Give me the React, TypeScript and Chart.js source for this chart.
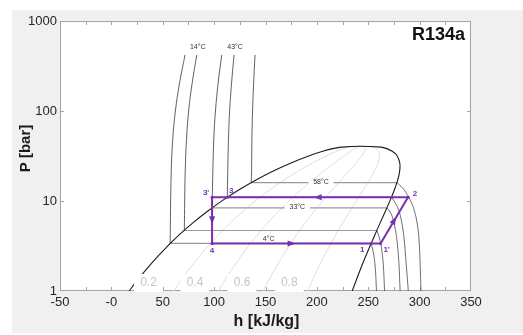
import { useEffect, useRef } from 'react';
import { Chart, registerables } from 'chart.js';

Chart.register(...registerables);

const FONT = "'Liberation Sans', Arial, Helvetica, sans-serif";

// R134a saturation table (ASHRAE reference: h = 0 kJ/kg for saturated liquid at -40 °C)
const satTemp = [-26.4, -20, -10, 0, 10, 20, 30, 40, 50, 60, 70, 80, 90, 95, 98, 100, 101.06];
const satP = [1.0, 1.327, 2.006, 2.928, 4.146, 5.717, 7.702, 10.166, 13.179, 16.818, 21.168, 26.332, 32.442, 35.92, 38.2, 39.72, 40.59];
const satHf = [17.3, 25.5, 38.6, 51.9, 65.4, 79.3, 93.6, 108.3, 123.5, 139.4, 156.1, 174.3, 194.6, 206.5, 215.5, 224.0, 241.5];
const satHg = [234.4, 238.4, 244.5, 250.5, 256.2, 261.6, 266.7, 271.3, 275.3, 278.5, 280.5, 280.7, 277.6, 272.9, 268.0, 262.5, 241.5];

// vapour quality lines
const qualityValues = [0.2, 0.4, 0.6, 0.8];
const qualityText = ['0.2', '0.4', '0.6', '0.8'];
const qualityLabelH = [36.1, 81.4, 127.1, 173.1];

// isotherms
const isoText = ['4°C', '14°C', '33°C', '43°C', '58°C'];
const isoPsat = [3.38, 4.7, 8.39, 11.03, 16.03];
const isoHf = [57.2, 71.0, 98.0, 112.8, 136.1];
const isoHg = [252.8, 258.3, 268.1, 272.5, 277.9];

// compressed-liquid branch (bar, kJ/kg)
const liquidP = [20, 50, 100, 200, 420];
const liquidH = [
  [58.2, 59.8, 62.3, 66.2, 71.7],
  [71.8, 73.2, 75.2, 78.5, 83.1],
  [98.7, 99.7, 101.3, 103.8, 107.4],
  [113.2, 114.0, 115.1, 116.9, 119.4],
  [136.4, 136.8, 137.4, 138.4, 139.8],
];

// superheated-vapour branch (bar, kJ/kg)
const vaporP = [
  [3.0, 2.5, 2.0, 1.5, 1.0],
  [4.0, 3.38, 3.0, 2.0, 1.0],
  [8.0, 7.0, 6.0, 5.0, 4.0, 3.0, 2.0, 1.0],
  [10, 8, 6, 4, 2, 1],
  [14, 12, 10, 8, 6, 4, 2, 1],
];
const vaporH = [
  [254.0, 255.4, 256.5, 257.3, 258.0],
  [260.6, 262.0, 262.9, 264.6, 265.9],
  [269.8, 272.8, 274.5, 276.1, 277.5, 278.7, 279.9, 281.0],
  [275.2, 279.5, 282.3, 284.7, 286.9, 289.0],
  [283.3, 287.5, 291.3, 294.6, 297.2, 299.2, 300.5, 301.3],
];

// refrigeration cycle states: 4 -> 1 -> 1' -> 2 -> 3 -> 3' -> 4
const cycleNames = ['4', '1', "1'", '2', '3', "3'"];
const cycleH = [98.0, 252.8, 262.0, 288.7, 112.8, 98.0];
const cycleP = [3.38, 3.38, 3.38, 11.03, 11.03, 11.03];

// axes
const xTicks = [-50, 0, 50, 100, 150, 200, 250, 300, 350];
const xTickLabels = ['-50', '-0', '50', '100', '150', '200', '250', '300', '350'];
const yTicks = [1, 10, 100, 1000];
const yTickLabels = ['1', '10', '100', '1000'];

const PURPLE = '#7b2fae';

type Pt = { x: number; y: number };
const pts = (hs: number[], ps: number[]): Pt[] => hs.map((h, i) => ({ x: h, y: ps[i] }));

const line = (label: string, data: Pt[], color: string, width: number, order: number, tension = 0.4) => ({
  label,
  data,
  showLine: true,
  fill: false,
  borderColor: color,
  borderWidth: width,
  pointRadius: 0,
  tension,
  order,
});

function buildDatasets() {
  const sets: any[] = [];
  // quality lines
  qualityValues.forEach((q, k) => {
    const data = satP.map((p, i) => ({ x: satHf[i] + q * (satHg[i] - satHf[i]), y: p }));
    sets.push(line('x=' + qualityText[k], data, '#dedede', 1, 5));
  });
  // two-phase isotherm segments
  isoText.forEach((t, i) => {
    sets.push(line(t + ' sat', [{ x: isoHf[i], y: isoPsat[i] }, { x: isoHg[i], y: isoPsat[i] }], '#9a9a9a', 1.2, 4, 0));
  });
  // liquid and vapour isotherm branches
  isoText.forEach((t, i) => {
    sets.push(line(t + ' liq', [{ x: isoHf[i], y: isoPsat[i] }, ...pts(liquidH[i], liquidP)], '#3a3a3a', 0.8, 3));
    sets.push(line(t + ' vap', [{ x: isoHg[i], y: isoPsat[i] }, ...pts(vaporH[i], vaporP[i])], '#4a4a4a', 0.8, 3));
  });
  // saturation dome
  const liq = pts(satHf, satP);
  const vap = pts(satHg, satP).reverse().slice(1);
  sets.push(line('dome', [...liq, ...vap], '#1c1c1c', 1.1, 2, 0.3));
  // cycle
  const cyc = pts(cycleH, cycleP);
  sets.push({
    ...line('cycle', [...cyc, cyc[0]], PURPLE, 2, 0, 0),
    pointRadius: 1.5,
    pointBackgroundColor: PURPLE,
    pointBorderWidth: 0,
  });
  return sets;
}

function boxedText(ctx: CanvasRenderingContext2D, text: string, x: number, y: number, w: number, h: number) {
  ctx.fillStyle = '#ffffff';
  ctx.fillRect(x - w / 2, y - h / 2, w, h);
}

function arrowHead(ctx: CanvasRenderingContext2D, x: number, y: number, ang: number) {
  ctx.save();
  ctx.translate(x, y);
  ctx.rotate(ang);
  ctx.beginPath();
  ctx.moveTo(4, 0);
  ctx.lineTo(-4, -3);
  ctx.lineTo(-4, 3);
  ctx.closePath();
  ctx.fill();
  ctx.restore();
}

const plotDecor = {
  id: 'plotDecor',
  beforeDraw(chart: any) {
    const { ctx, width, height, chartArea: a } = chart;
    ctx.save();
    ctx.fillStyle = '#ffffff';
    ctx.fillRect(0, 0, width, height);
    ctx.fillStyle = '#f0f0f0';
    ctx.fillRect(12, 10, width - 12, height - 12);
    ctx.fillStyle = '#ffffff';
    ctx.fillRect(a.left, a.top, a.right - a.left, a.bottom - a.top);
    ctx.restore();
  },
  beforeDatasetsDraw(chart: any) {
    const { ctx, chartArea: a, scales } = chart;
    const xs = scales.x;
    const ys = scales.y;
    ctx.save();
    ctx.strokeStyle = '#a3a3a3';
    ctx.lineWidth = 1;
    ctx.strokeRect(a.left + 0.5, a.top + 0.5, a.right - a.left - 1, a.bottom - a.top - 1);
    ctx.beginPath();
    for (let h = -25; h < 350; h += 25) {
      const px = Math.round(xs.getPixelForValue(h)) + 0.5;
      ctx.moveTo(px, a.bottom);
      ctx.lineTo(px, a.bottom - 4);
      ctx.moveTo(px, a.top);
      ctx.lineTo(px, a.top + 4);
    }
    for (const p of [10, 100]) {
      const py = Math.round(ys.getPixelForValue(p)) + 0.5;
      ctx.moveTo(a.left, py);
      ctx.lineTo(a.left + 4, py);
      ctx.moveTo(a.right, py);
      ctx.lineTo(a.right - 4, py);
    }
    ctx.stroke();
    ctx.restore();
  },
  beforeDatasetDraw(chart: any, args: any) {
    if (chart.data.datasets[args.index].label !== 'cycle') return;
    const { ctx, chartArea: a, scales } = chart;
    const xs = scales.x;
    const ys = scales.y;
    ctx.save();
    // quality labels along the bottom
    ctx.font = `12px ${FONT}`;
    ctx.textAlign = 'center';
    ctx.textBaseline = 'middle';
    qualityText.forEach((t, k) => {
      const x = xs.getPixelForValue(qualityLabelH[k]);
      const y = a.bottom - 8;
      boxedText(ctx, t, x, y, 29, 18);
      ctx.fillStyle = '#c4c4c4';
      ctx.fillText(t, x, y);
    });
    // isotherm labels inside the dome
    ctx.font = `7px ${FONT}`;
    const domeLabels: [number, number, boolean, number][] = [
      [4, 204, true, 0],
      [2, 181, true, -1],
      [0, 153, false, -4.5],
    ];
    domeLabels.forEach(([i, h, boxed, dy]) => {
      const x = xs.getPixelForValue(h);
      const y = ys.getPixelForValue(isoPsat[i]) + dy;
      if (boxed) boxedText(ctx, isoText[i], x, y, 25, 7);
      ctx.fillStyle = '#333333';
      ctx.fillText(isoText[i], x, y);
    });
    // labels on top of the liquid isotherms
    [1, 3].forEach((i) => {
      const x = xs.getPixelForValue(liquidH[i][liquidH[i].length - 1]) + 1;
      const y = ys.getPixelForValue(liquidP[liquidP.length - 1]) - 7.5;
      ctx.fillStyle = '#333333';
      ctx.fillText(isoText[i], x, y);
    });
    ctx.restore();
  },
  afterDatasetsDraw(chart: any) {
    const { ctx, chartArea: a, scales } = chart;
    const xs = scales.x;
    const ys = scales.y;
    const px = cycleH.map((h) => xs.getPixelForValue(h));
    const py = cycleP.map((p) => ys.getPixelForValue(p));
    ctx.save();
    ctx.fillStyle = PURPLE;
    // flow direction arrows: 4->1, 1'->2, 2->3, 3'->4
    [[0, 1], [2, 3], [3, 4], [5, 0]].forEach(([s, e]) => {
      const mx = (px[s] + px[e]) / 2;
      const my = (py[s] + py[e]) / 2;
      arrowHead(ctx, mx, my, Math.atan2(py[e] - py[s], px[e] - px[s]));
    });
    // state labels
    const offs: Record<string, [number, number]> = {
      '4': [0, 7],
      '1': [-9, 6],
      "1'": [6, 6],
      '2': [7, -3],
      '3': [4, -6],
      "3'": [-6, -4],
    };
    ctx.font = `bold 8px ${FONT}`;
    ctx.textAlign = 'center';
    ctx.textBaseline = 'middle';
    cycleNames.forEach((n, i) => {
      const [dx, dy] = offs[n];
      ctx.fillText(n, px[i] + dx, py[i] + dy);
    });
    // refrigerant name
    ctx.fillStyle = '#111111';
    ctx.font = `bold 18px ${FONT}`;
    ctx.textAlign = 'right';
    ctx.fillText('R134a', a.right - 6, a.top + 14);
    // axis titles
    ctx.fillStyle = '#1a1a1a';
    ctx.font = `bold 16px ${FONT}`;
    ctx.textAlign = 'center';
    ctx.fillText('h [kJ/kg]', (a.left + a.right) / 2 + 1, 322);
    ctx.translate(26, 148.5);
    ctx.rotate(-Math.PI / 2);
    ctx.font = `bold 15px ${FONT}`;
    ctx.fillText('P [bar]', 0, 0);
    ctx.restore();
  },
};

export default function App() {
  const ref = useRef<HTMLCanvasElement>(null);
  useEffect(() => {
    const chart = new Chart(ref.current as HTMLCanvasElement, {
      type: 'scatter',
      data: { datasets: buildDatasets() },
      options: {
        animation: false,
        responsive: false,
        devicePixelRatio: 1,
        events: [],
        layout: { padding: { left: 12, right: 52, top: 21, bottom: 10 } },
        plugins: { legend: { display: false }, tooltip: { enabled: false } },
        scales: {
          x: {
            type: 'linear',
            min: -50,
            max: 350,
            grid: { display: false, drawTicks: false },
            border: { display: false },
            afterFit: (s: any) => {
              s.height = 34;
            },
            afterBuildTicks: (s: any) => {
              s.ticks = xTicks.map((v) => ({ value: v }));
            },
            ticks: {
              padding: 4,
              color: '#262626',
              font: { family: FONT, size: 13 },
              maxRotation: 0,
              autoSkip: false,
              callback: (_v: any, i: number) => xTickLabels[i],
            },
          },
          y: {
            type: 'logarithmic',
            min: 1,
            max: 1000,
            grid: { display: false, drawTicks: false },
            border: { display: false },
            afterFit: (s: any) => {
              s.width = 48;
            },
            afterBuildTicks: (s: any) => {
              s.ticks = yTicks.map((v) => ({ value: v }));
            },
            ticks: {
              padding: 3,
              color: '#262626',
              font: { family: FONT, size: 13 },
              autoSkip: false,
              callback: (_v: any, i: number) => yTickLabels[i],
            },
          },
        },
      },
      plugins: [plotDecor],
    } as any);
    return () => chart.destroy();
  }, []);
  return (
    <div style={{ position: 'fixed', left: 0, top: 0, width: 523, height: 335 }}>
      <canvas ref={ref} width={523} height={335} style={{ display: 'block', width: 523, height: 335 }} />
    </div>
  );
}
